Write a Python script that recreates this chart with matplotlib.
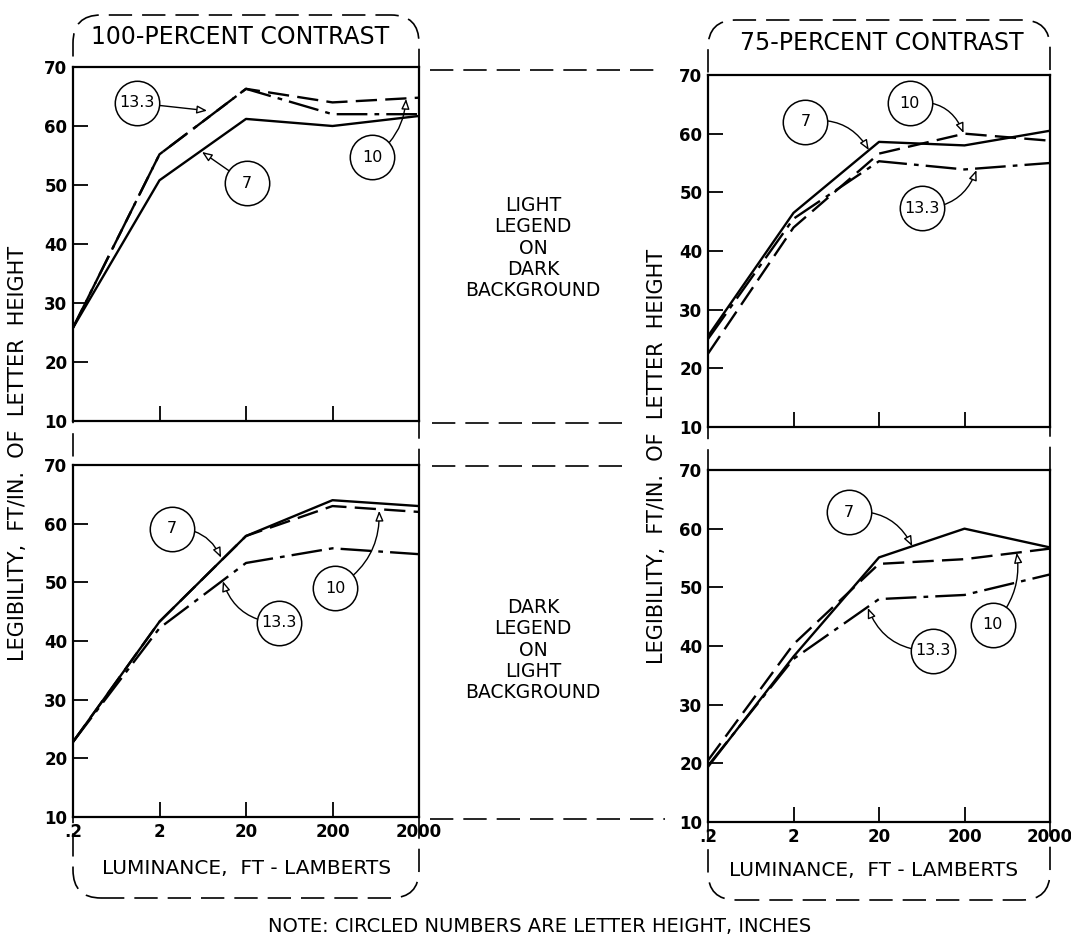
import matplotlib
matplotlib.use('Agg')
import matplotlib.pyplot as plt
from matplotlib.lines import Line2D
from matplotlib.patches import FancyBboxPatch

luminance = [0.2, 2, 20, 200, 2000]
lum_labels = ['.2', '2', '20', '200', '2000']
legibility_ticks = [10, 20, 30, 40, 50, 60, 70]
heights = ['7', '10', '13.3']

# 100-percent contrast, light legend on dark background
c100_light = {'7': [25.8, 50.8, 61.2, 60.0, 61.7],
              '10': [25.8, 55.2, 66.3, 64.0, 64.8],
              '13.3': [25.8, 55.2, 66.3, 62.0, 62.0]}
# 75-percent contrast, light legend on dark background
c75_light = {'7': [25.5, 46.5, 58.6, 58.0, 60.5],
             '10': [22.5, 44.0, 56.6, 60.0, 58.8],
             '13.3': [25.0, 45.5, 55.3, 53.9, 55.0]}
# 100-percent contrast, dark legend on light background
c100_dark = {'7': [22.8, 43.3, 57.9, 64.0, 63.0],
             '10': [22.8, 43.3, 57.9, 63.0, 62.0],
             '13.3': [22.8, 42.2, 53.3, 55.8, 54.8]}
# 75-percent contrast, dark legend on light background
c75_dark = {'7': [19.4, 38.2, 55.1, 60.0, 56.8],
            '10': [20.5, 40.3, 54.0, 54.8, 56.6],
            '13.3': [19.6, 37.8, 48.0, 48.7, 52.2]}

styles = {'7': '-', '10': (0, (9, 3.5)), '13.3': (0, (13, 3, 2, 3))}

W, H = 1071, 944


def box(l, t, r, b):
    return [l / W, (H - b) / H, (r - l) / W, (b - t) / H]


def fig_line(fig, x0, x1, y0, y1):
    fig.add_artist(Line2D([x0 / 100, x1 / 100], [(H - y0) / 100, (H - y1) / 100],
                          transform=fig.dpi_scale_trans, color='black', lw=1.2,
                          linestyle=(0, (14, 6))))


def make_panel(ax, data, notes, bottom):
    for h in heights:
        ax.plot(luminance, data[h], color='black', lw=1.7, linestyle=styles[h])
    ax.set_xscale('log')
    ax.set_xlim(0.2, 2000)
    ax.set_ylim(10, 70)
    ax.set_xticks(luminance)
    ax.minorticks_off()
    ax.set_yticks(legibility_ticks)
    ax.tick_params(direction='in', length=11, width=1.3, top=False, right=False,
                   labelsize=12, pad=4)
    if bottom:
        ax.set_xticklabels(lum_labels, fontweight='bold')
    else:
        ax.set_xticklabels([])
    for lab in ax.get_yticklabels():
        lab.set_fontweight('bold')
    for s in ax.spines.values():
        s.set_linewidth(1.6)

    for text, center, tip, rad in notes:
        ax.annotate('', xy=tip, xytext=center,
                    arrowprops=dict(arrowstyle='-|>,head_length=0.6,head_width=0.24',
                                    shrinkA=16, shrinkB=0, lw=1.0, fc='white', ec='black',
                                    connectionstyle='arc3,rad=%s' % rad), zorder=4)
        ax.plot([center[0]], [center[1]], marker='o', markersize=32, mfc='white',
                mec='black', mew=1.1, zorder=5)
        ax.text(center[0], center[1], text, ha='center', va='center', fontsize=11.5, zorder=6)


fig = plt.figure(figsize=(W / 100, H / 100), dpi=100)

ax_tl = fig.add_axes(box(73, 67, 419, 421))
ax_bl = fig.add_axes(box(73, 465, 419, 817))
ax_tr = fig.add_axes(box(708, 75, 1050, 427))
ax_br = fig.add_axes(box(708, 470, 1050, 822))

make_panel(ax_tl, c100_light, [('13.3', (1.1, 63.9), (7.1, 62.6), 0.0),
                               ('7', (20.5, 50.3), (6.2, 55.6), 0.0),
                               ('10', (577, 54.7), (1416, 64.6), 0.25)], False)
make_panel(ax_tr, c75_light, [('10', (46, 65.2), (195, 60.1), -0.4),
                              ('7', (2.76, 62.0), (15.2, 57.2), -0.35),
                              ('13.3', (63, 47.3), (276, 53.8), 0.35)], False)
make_panel(ax_bl, c100_dark, [('7', (2.78, 59.1), (10.3, 54.2), -0.35),
                              ('13.3', (48, 43.1), (10.8, 50.2), -0.35),
                              ('10', (214, 49.0), (693, 62.2), 0.3)], True)
make_panel(ax_br, c75_dark, [('7', (8.9, 62.8), (49, 57.0), -0.35),
                             ('13.3', (85, 39.2), (14.8, 46.5), -0.35),
                             ('10', (428, 43.6), (815, 55.9), 0.25)], True)

# dashed rounded frames around each column
for l, t, r, b in [(73, 15, 419, 898), (708, 20, 1050, 900)]:
    frame = FancyBboxPatch((l / 100, (H - b) / 100), (r - l) / 100, (b - t) / 100,
                           boxstyle='round,pad=0,rounding_size=0.28',
                           transform=fig.dpi_scale_trans, fill=False, ec='black',
                           lw=1.2, linestyle=(0, (14, 6)), zorder=-1)
    fig.add_artist(frame)

# dashed connectors between the panels
fig_line(fig, 430, 662, 70, 70)
fig_line(fig, 432, 632, 423, 423)
fig_line(fig, 432, 632, 466, 466)
fig_line(fig, 430, 665, 819, 819)

fig.text(240 / W, 1 - 37 / H, '100-PERCENT CONTRAST', ha='center', va='center', fontsize=17)
fig.text(882 / W, 1 - 43 / H, '75-PERCENT CONTRAST', ha='center', va='center', fontsize=17)

ylab = 'LEGIBILITY,  FT/IN.  OF  LETTER  HEIGHT'
fig.text(18 / W, 1 - 453 / H, ylab, rotation=90, ha='center', va='center', fontsize=15)
fig.text(657 / W, 1 - 456 / H, ylab, rotation=90, ha='center', va='center', fontsize=15)

fig.text(533 / W, 1 - 248 / H, 'LIGHT\nLEGEND\nON\nDARK\nBACKGROUND',
         ha='center', va='center', fontsize=13.5, linespacing=1.15)
fig.text(533 / W, 1 - 650 / H, 'DARK\nLEGEND\nON\nLIGHT\nBACKGROUND',
         ha='center', va='center', fontsize=13.5, linespacing=1.15)

fig.text(247 / W, 1 - 868 / H, 'LUMINANCE,  FT - LAMBERTS', ha='center', va='center', fontsize=14.5)
fig.text(874 / W, 1 - 870 / H, 'LUMINANCE,  FT - LAMBERTS', ha='center', va='center', fontsize=14.5)

fig.text(540 / W, 1 - 927 / H, 'NOTE: CIRCLED NUMBERS ARE LETTER HEIGHT, INCHES',
         ha='center', va='center', fontsize=14)

plt.savefig('out.png', dpi=100)
